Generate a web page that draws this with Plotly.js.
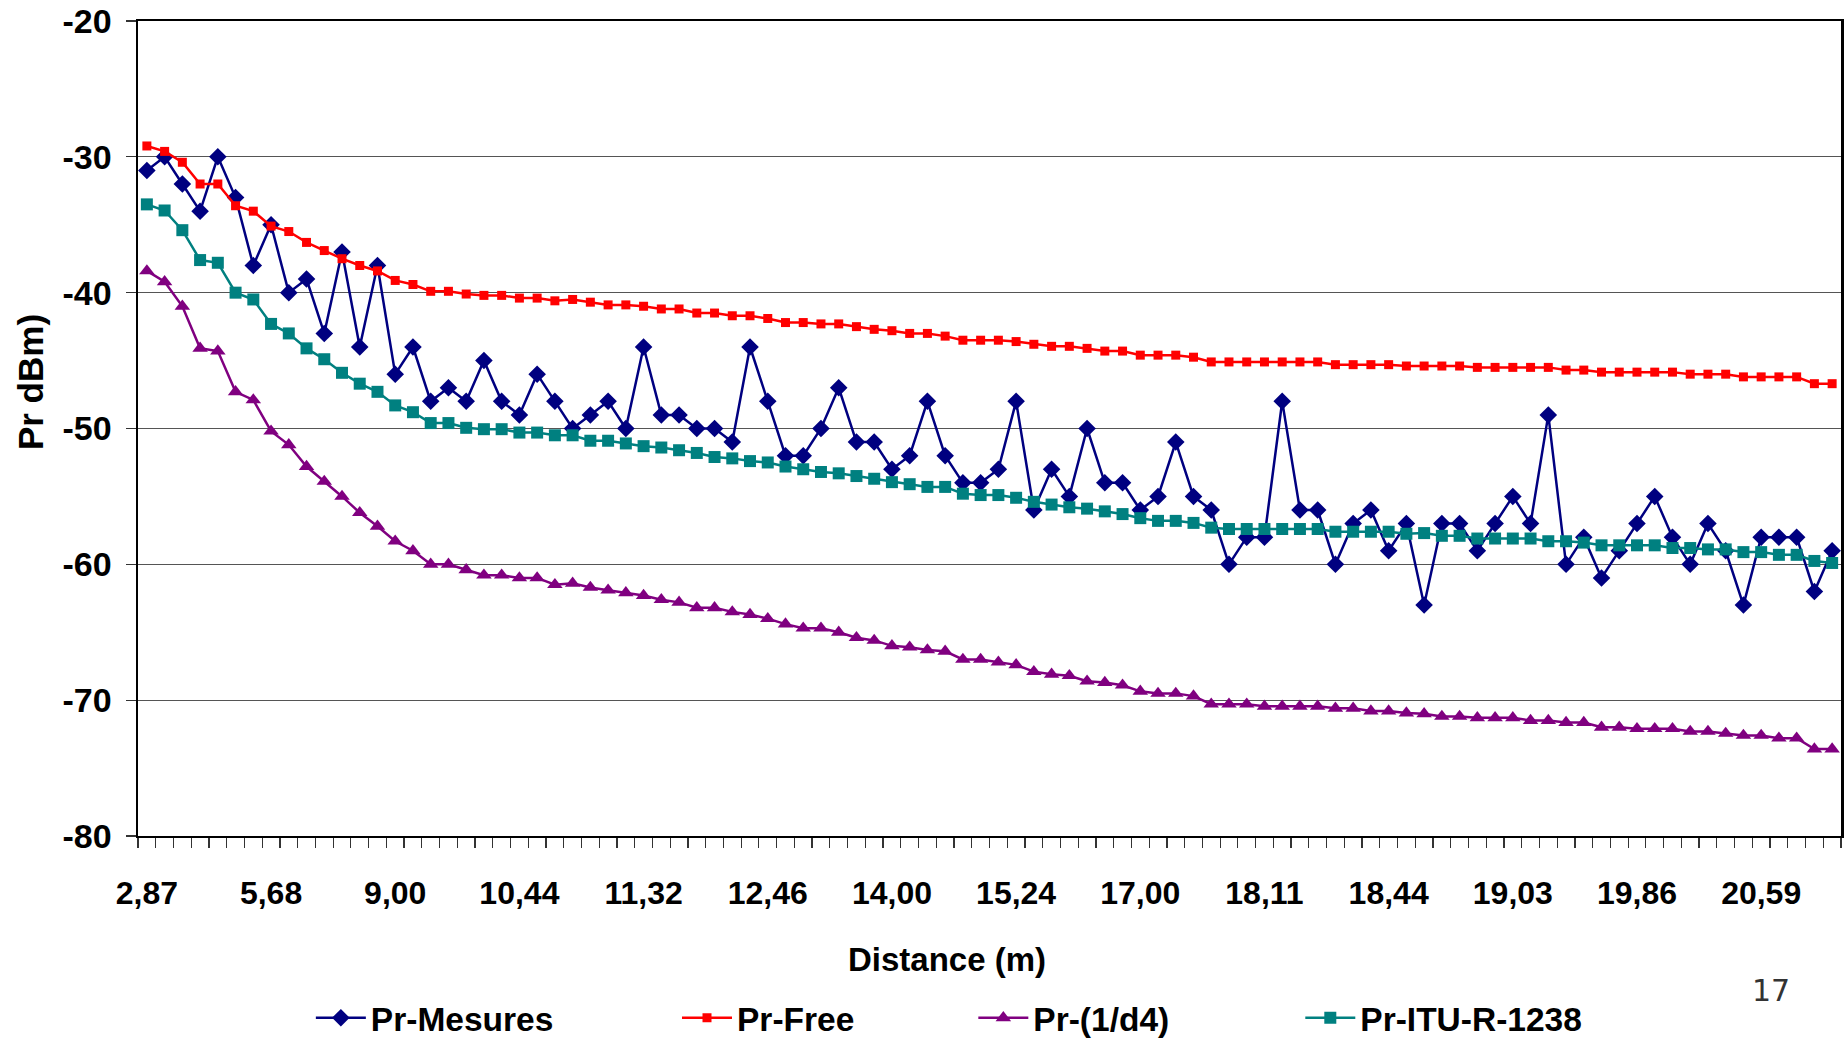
<!DOCTYPE html>
<html>
<head>
<meta charset="utf-8">
<script src="https://cdn.plot.ly/plotly-3.0.1.min.js"></script>
<style>
html,body{margin:0;padding:0;background:#fff;}
#chart{width:1845px;height:1038px;}
</style>
</head>
<body>
<div id="chart"></div>
<script>
// Category index (one per measured distance)
const catIndex = Array.from({length: 96}, (_, i) => i);

// Visible tick labels (every 7th category)
const tickIdx = [0, 7, 14, 21, 28, 35, 42, 49, 56, 63, 70, 77, 84, 91];
const tickLabels = ["2,87", "5,68", "9,00", "10,44", "11,32", "12,46", "14,00", "15,24", "17,00", "18,11", "18,44", "19,03", "19,86", "20,59"];

// Y tick values and labels
const yTickVals = [-80, -70, -60, -50, -40, -30, -20];
const yTickLabels = ["-80", "-70", "-60", "-50", "-40", "-30", "-20"];

const prMesures = [
  -31, -30, -32, -34, -30, -33, -38, -35, -40, -39,
  -43, -37, -44, -38, -46, -44, -48, -47, -48, -45,
  -48, -49, -46, -48, -50, -49, -48, -50, -44, -49,
  -49, -50, -50, -51, -44, -48, -52, -52, -50, -47,
  -51, -51, -53, -52, -48, -52, -54, -54, -53, -48,
  -56, -53, -55, -50, -54, -54, -56, -55, -51, -55,
  -56, -60, -58, -58, -48, -56, -56, -60, -57, -56,
  -59, -57, -63, -57, -57, -59, -57, -55, -57, -49,
  -60, -58, -61, -59, -57, -55, -58, -60, -57, -59,
  -63, -58, -58, -58, -62, -59
];

const prFree = [
  -29.2, -29.6, -30.4, -32.0, -32.0, -33.6, -34.0, -35.1, -35.5, -36.3,
  -36.9, -37.5, -38.0, -38.4, -39.1, -39.4, -39.9, -39.9, -40.1, -40.2,
  -40.2, -40.4, -40.4, -40.6, -40.5, -40.7, -40.9, -40.9, -41.0, -41.2,
  -41.2, -41.5, -41.5, -41.7, -41.7, -41.9, -42.2, -42.2, -42.3, -42.3,
  -42.5, -42.7, -42.8, -43.0, -43.0, -43.2, -43.5, -43.5, -43.5, -43.6,
  -43.8, -43.95, -43.95, -44.1, -44.3, -44.3, -44.6, -44.6, -44.6, -44.75,
  -45.1, -45.1, -45.1, -45.1, -45.1, -45.1, -45.1, -45.3, -45.3, -45.3,
  -45.3, -45.4, -45.4, -45.4, -45.4, -45.5, -45.5, -45.5, -45.5, -45.5,
  -45.7, -45.7, -45.85, -45.85, -45.85, -45.85, -45.85, -46.0, -46.0, -46.0,
  -46.2, -46.2, -46.2, -46.2, -46.7, -46.7
];

const prD4 = [
  -38.4, -39.2, -41.0, -44.1, -44.3, -47.3, -47.9, -50.2, -51.2, -52.8,
  -53.9, -55.0, -56.2, -57.2, -58.3, -59.0, -60.0, -60.0, -60.4, -60.8,
  -60.8, -61.0, -61.0, -61.5, -61.4, -61.7, -61.9, -62.1, -62.3, -62.6,
  -62.8, -63.2, -63.2, -63.5, -63.7, -64.0, -64.4, -64.7, -64.7, -65.0,
  -65.4, -65.6, -66.0, -66.1, -66.3, -66.4, -67.0, -67.0, -67.2, -67.4,
  -67.9, -68.1, -68.2, -68.6, -68.7, -68.9, -69.35, -69.5, -69.5, -69.7,
  -70.3, -70.3, -70.3, -70.45, -70.45, -70.45, -70.45, -70.6, -70.6, -70.8,
  -70.8, -70.95, -71.0, -71.2, -71.2, -71.3, -71.3, -71.3, -71.5, -71.5,
  -71.65, -71.65, -72.0, -72.0, -72.1, -72.1, -72.1, -72.3, -72.3, -72.45,
  -72.6, -72.6, -72.8, -72.8, -73.6, -73.6
];

const prITU = [
  -33.5, -33.95, -35.4, -37.6, -37.8, -40.0, -40.5, -42.3, -43.0, -44.1,
  -44.9, -45.9, -46.7, -47.3, -48.3, -48.8, -49.6, -49.6, -49.95, -50.05,
  -50.05, -50.3, -50.3, -50.5, -50.5, -50.9, -50.9, -51.1, -51.3, -51.4,
  -51.6, -51.8, -52.1, -52.2, -52.4, -52.5, -52.8, -53.0, -53.2, -53.3,
  -53.5, -53.7, -53.95, -54.1, -54.3, -54.3, -54.8, -54.9, -54.9, -55.1,
  -55.4, -55.6, -55.8, -55.9, -56.1, -56.3, -56.6, -56.8, -56.8, -56.95,
  -57.3, -57.4, -57.4, -57.4, -57.4, -57.4, -57.4, -57.6, -57.6, -57.6,
  -57.6, -57.75, -57.7, -57.9, -57.9, -58.1, -58.1, -58.1, -58.1, -58.3,
  -58.3, -58.4, -58.6, -58.6, -58.6, -58.6, -58.8, -58.8, -58.9, -58.9,
  -59.1, -59.1, -59.3, -59.3, -59.75, -59.9
];

const FONT = "Liberation Sans, Arial, sans-serif";

const traces = [
  {x: catIndex, y: prMesures, name: "Pr-Mesures", type: "scatter", mode: "lines+markers",
   line: {color: "#000080", width: 2.5}, marker: {symbol: "diamond", size: 13.5, color: "#000080"}, legend: "legend"},
  {x: catIndex, y: prFree, name: "Pr-Free", type: "scatter", mode: "lines+markers",
   line: {color: "#FF0000", width: 2.5}, marker: {symbol: "square", size: 9, color: "#FF0000"}, legend: "legend2"},
  {x: catIndex, y: prD4, name: "Pr-(1/d4)", type: "scatter", mode: "lines+markers",
   line: {color: "#800080", width: 2.5}, marker: {symbol: "triangle-up", size: 13.5, color: "#800080"}, legend: "legend3"},
  {x: catIndex, y: prITU, name: "Pr-ITU-R-1238", type: "scatter", mode: "lines+markers",
   line: {color: "#008080", width: 2.5}, marker: {symbol: "square", size: 12, color: "#008080"}, legend: "legend4"}
];

const legendBase = {
  orientation: "h", yanchor: "middle", y: -0.2233, xanchor: "left",
  bgcolor: "rgba(0,0,0,0)", font: {family: FONT, size: 33.5, color: "#000", weight: "bold"},
  itemwidth: 50
};

const layout = {
  width: 1845, height: 1038,
  margin: {l: 138, r: 4, t: 21, b: 202, autoexpand: false},
  paper_bgcolor: "#fff", plot_bgcolor: "#fff",
  showlegend: true,
  legend:  Object.assign({}, legendBase, {x: 0.1015}),
  legend2: Object.assign({}, legendBase, {x: 0.3165}),
  legend3: Object.assign({}, legendBase, {x: 0.4905}),
  legend4: Object.assign({}, legendBase, {x: 0.6825}),
  xaxis: {
    range: [-0.5, 95.5], showgrid: false, zeroline: false, automargin: false,
    showline: true, linecolor: "#000", linewidth: 2, mirror: true,
    tickmode: "array", tickvals: tickIdx, ticktext: tickLabels,
    ticks: "outside", ticklen: 10, tickcolor: "rgba(0,0,0,0)",
    ticklabelstandoff: 18,
    tickfont: {family: FONT, size: 32, color: "#000", weight: "bold"},
    minor: {tickmode: "linear", tick0: -0.5, dtick: 1, ticks: "outside", ticklen: 10, tickwidth: 1.2, tickcolor: "#333", showgrid: false}
  },
  yaxis: {
    range: [-80, -20], tickmode: "array", tickvals: yTickVals, ticktext: yTickLabels,
    showgrid: true, gridcolor: "#555", gridwidth: 1.2, automargin: false,
    zeroline: false, showline: true, linecolor: "#000", linewidth: 2.5, mirror: true,
    ticks: "outside", ticklen: 10, tickcolor: "#333", tickwidth: 1.2,
    ticklabelstandoff: 7,
    tickfont: {family: FONT, size: 34, color: "#000", weight: "bold"}
  },
  annotations: [
    {text: "Pr dBm)", xref: "paper", yref: "paper", x: -0.0634, y: 0.557, xanchor: "center", yanchor: "middle",
     textangle: -90, showarrow: false, font: {family: FONT, size: 35, color: "#000", weight: "bold"}},
    {text: "Distance (m)", xref: "paper", yref: "paper", x: 0.475, y: -0.151, xanchor: "center", yanchor: "middle",
     showarrow: false, font: {family: FONT, size: 33, color: "#000", weight: "bold"}},
    {text: "17", xref: "paper", yref: "paper", x: 0.959, y: -0.189, xanchor: "center", yanchor: "middle",
     showarrow: false, font: {family: "DejaVu Sans, sans-serif", size: 30, color: "#333"}}
  ]
};

Plotly.newPlot("chart", traces, layout, {displayModeBar: false, staticPlot: true});
</script>
</body>
</html>
